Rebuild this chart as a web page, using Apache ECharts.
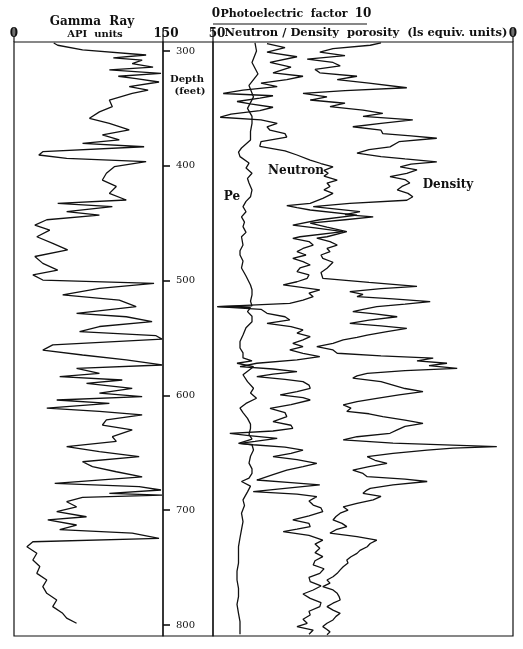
<!DOCTYPE html>
<html>
<head>
<meta charset="utf-8">
<script src="https://cdn.jsdelivr.net/npm/echarts@6/dist/echarts.min.js"></script>
<style>
html,body{margin:0;padding:0;background:#fff;}
#c{width:523px;height:649px;}
</style>
</head>
<body>
<div id="c"></div>
<script>
// ---- Data ----
const depthTicks = [300, 400, 500, 600, 700, 800];
const grTicks = [0, 150];
const porTicks = [50, 0];
const peTicks = [0, 10];

const grDepth = [293,295,299,303.5,306,308,311,314,316.5,319.5,
  322,324,327,331,334,337,342.7,348.5,353,358.6,
  363,368.8,373,377.5,380.4,383.4,387.7,390.6,393.5,396.4,
  400.8,406.5,412.4,418,424,429.8,432.7,435.6,440,443,
  447,451.6,456,461.8,467.5,473.3,479,485,490.8,495,
  499.5,502.4,506.7,512.5,517,522.7,528.5,531.5,535.8,540,
  544.5,548,551,556,560.5,564.8,569,573.5,576.4,580.8,
  583.7,586.6,589.5,593.8,598,601,604,607,611,614,
  617,621.4,625.8,630,636,640,644.7,649,653.4,657.8,
  662,666.5,671,676.6,679.5,682.4,685.3,686.8,688.8,692.6,
  697,701.3,705.7,708.5,712.9,717,720,724.5,727.5,731.8,
  737.5,743.4,749,755,760.8,766.6,772.4,778.2,784,789.8,
  794,798.5];
const grValue = [40,44,69,133,100,129,119,140,96,148,
  105,123,146,116,135,119,96,99,86,76,
  96,116,89,106,69,131,29,25,53,133,
  101,93,89,103,96,113,44,99,53,86,
  33,21,36,23,39,54,21,29,44,19,
  29,141,86,49,106,123,63,113,139,86,
  66,143,149,39,29,69,113,149,63,86,
  46,109,73,119,86,129,43,96,33,86,
  129,93,89,119,99,103,53,86,126,69,
  79,103,129,41,126,148,96,149,69,53,
  63,43,73,34,63,46,119,146,19,13,
  23,19,26,23,33,29,33,43,39,49,
  53,63];

const peDepth = [293,300,310,320,330,340,350,357,363,370,
  377.5,381,384.5,388,392,397.6,402,406.5,411,415,
  421,427,431,435.6,440,444.5,449,453,458,461.8,
  469,474,477.7,483,489,496,503.8,508,512.5,518,
  522,522.7,523.5,527,531,535.8,541,547.4,553,558.7,
  563,567.4,570,572,575,582,588,593.8,598,602.5,
  607,611,615,620,625,628.7,634,638,641.7,643,
  647.6,653,659,664,667.9,672,675,679,684,691,
  696,702.6,710,717,724,731.8,739,746,753,760.8,
  768,775.3,782,789.8,797,804.4,808];
const peValue = [2.8,2.9,2.6,3.0,2.4,2.7,2.3,2.6,2.6,2.5,
  2.5,2.2,1.9,1.7,1.8,2.4,2.2,2.6,2.3,2.4,
  2.6,2.5,2.2,2.0,2.2,1.9,2.1,2.0,2.2,1.9,
  2.0,1.8,1.8,2.0,1.9,2.2,2.5,2.6,2.6,2.5,
  2.6,0.3,2.5,2.3,2.6,2.6,2.2,2.0,1.8,1.8,
  2.0,2.0,2.6,1.6,2.7,2.0,2.3,2.7,2.5,2.9,
  2.2,1.8,2.0,2.3,2.5,2.5,2.4,2.6,1.7,2.6,
  2.7,2.5,2.4,2.6,2.6,2.4,1.9,2.5,2.3,2.0,
  2.1,1.9,2.0,1.9,1.8,1.7,1.7,1.7,1.6,1.6,
  1.7,1.7,1.6,1.7,1.8,1.8,1.8];

const neuDepth = [293.5,297,301,305,310,314,319,322,325,328,
  331,334,337,339,341,344,346,349,352,355,
  357.7,360,363,366,369,372,375,379,383,387,
  390.6,395,398,401,404,406.5,409,412.4,415,418,
  421,424,428.4,432.7,434.7,436.5,438.5,443,447,451.6,
  454,457.4,461.8,463.2,466,469,472,474.8,477.7,480.6,
  483.5,486.4,489,492.2,495,498,501,503.8,508.1,511,
  514,517,519.8,522.7,525,528.5,531.5,534.3,537.2,540,
  543,545.8,548.8,551.7,554.6,557.5,560.4,563.3,566.2,569,
  572,574.9,577,579.3,581.5,583.7,586,588,591,593.8,
  596.7,599.6,602,604,608,611.3,615,618.5,622.9,626,
  628.7,631,633,635,637.4,640,641.7,643,645,647.6,
  650.5,653.4,656,659.2,662,665,669,673.7,676,678,
  681,683.9,686,688.2,692,695.5,698,701.3,705,708.5,
  711.5,714.3,716.5,718.7,722,726,729.5,733.2,737,740.5,
  744,747.7,751,755,758.5,762.2,766,769.5,773,776.8,
  780.5,784,788,791.3,795,798.5,801.5,804.4,808];
const neuValue = [41,38,41,36,40.5,37,40,35,37.7,42,
  39.3,45,48.3,40,42.2,46,43.8,40,42.2,47,
  48.8,42,39.3,41,40.5,38,37.7,42,42.2,38,
  36,33.8,32,30,31.5,30.8,31.5,29.3,31,30.5,
  31.5,30,31.7,33.8,37.7,36,33.8,26,32.2,36.7,
  33,28.3,35.5,36.7,34,33.3,35,36,34.5,36.7,
  35,33.8,35.5,36,34,34.3,36,38.3,32.2,34,
  33.3,35,37.2,49.3,42,41,38,37.2,41,37,
  35,36,33.8,35,36.7,35,37.2,35,32.2,36,
  42.7,45.5,40,36,40,42.7,38,35,34,33.8,
  36,38.8,35,33.8,37,40.5,38,37.7,40,37,
  36.7,40,47.2,44,39.3,43,45.5,43.3,38,35,
  37,40,36,32.7,35,37.7,40,42.7,37,32.2,
  38,43.3,36,32.7,34,33.3,32,31.7,34,36.7,
  34,33.8,36,38.3,34,31.7,33,32.2,33,31.7,
  33,33.3,31.5,32.2,34,33.8,32,33.3,35,33.8,
  32,32.2,34,33.8,35,34.3,36,33.3,34];

const denDepth = [293,295,298,301,304,307,310,313,316,319,
  322,325,328,332,334.5,337,340,342.7,345.5,348.5,
  351.5,354.4,357,360,363,366,369,372,374,376,
  379,383.5,386,389,392,394,396.5,398.5,401,403.5,
  406.5,409.5,412,415,418,421,424,427,430,432.7,
  435.6,438,440,442.5,444.5,447,450,453.5,457.4,461.8,
  463,466,469,472,474.8,477.7,480.6,484,489.3,493,
  498,501.5,505,507,509.6,512,514,516,518.3,520.5,
  522.7,525,527,529,531.5,534.5,537.2,539.5,541.6,544.5,
  547.4,549.5,551.7,554.6,557.5,560.4,563.3,565.5,567.6,570,
  572,574,576.4,578.5,580.8,583,585,588,591,594,
  596.7,599.5,602.5,605.5,608.3,611,614,616,618.5,621.5,
  624.3,627,630,633,636,638.8,641.5,644.6,646,647.6,
  650.5,653.4,656.5,659.2,662,665,668,670.8,673,675,
  678,681,683,685.3,688,691,694,697,700,702.6,
  705.5,708.5,711.5,714.3,717,720,723,726,729,731.8,
  735,737.6,740.5,743.4,746,749.2,752,755,758,760.8,
  763.5,766.6,769.5,772.4,775,778.2,781,784,787,789.8,
  792.5,795.6,798.5,801.4,804,806,808.5];
const denValue = [22,23.8,30,32.2,28,34.3,30,28.8,33,32.2,
  26,29.3,24,17.7,28,35,31,33.8,28,30.5,
  25,21.7,25,16.7,22,26.7,22,21.7,17,12.7,
  19,20.5,24,26,22,18,12.7,17,18.8,16,
  17.7,20.5,18,17.2,18.5,19.3,17.5,16.7,17.7,27.2,
  33.3,29,25.5,28,23.3,28,33.8,31,27.7,31,
  32.7,30.5,29.3,31,30.5,32,31.7,30,31,32,
  31.7,24,16,22,27.2,25,26,20,13.8,18,
  22.7,25,26.7,23,19.3,24,27.2,22,17.7,21,
  24.3,26,28.3,30,32.7,30,29.3,22,13.3,16,
  11,14,9.3,18,24.3,26,26.7,22,20,18,
  15,19,22.7,26,28.3,27,27.7,24,21.7,18,
  15,18,19.3,20.5,26,28.3,20,2.7,10,14.3,
  20,24.3,23,21,24,26.7,25,24.3,18,14.3,
  20,23.8,24.5,25,22,23.3,26,28.3,27.5,28.8,
  29.5,30,28.5,27.7,29.5,30.5,26,22.7,23.8,24.3,
  25.5,26,27,27.7,27.5,28.3,28.8,29.3,30,31,
  30.5,31.7,30,29.3,29,28.8,30,31,30,28.8,
  29.5,30,31,31.7,31,30.5,31];

// ---- Layout ----
const TOP = 42, BOTTOM_Y = 636, H = BOTTOM_Y - TOP;
const GR_L = 14, GR_R = 163, TR_L = 213, TR_R = 513;
const DMIN = 292.16, DMAX = 809.58;
const SERIF = "'DejaVu Serif', 'Liberation Serif', serif";
const INK = '#111';
const HEAD_TICK = 14;

function pairs(vals, depths) {
  const n = Math.min(vals.length, depths.length);
  const out = [];
  for (let i = 0; i < n; i++) out.push([vals[i], depths[i]]);
  return out;
}

const chart = echarts.init(document.getElementById('c'), null, {renderer: 'canvas'});
const peEndX = TR_L + (TR_R - TR_L) * 10 / 20;

const headRich = {
  s: {fontFamily: SERIF, fontWeight: 'bold', fontSize: 12, color: INK, padding: [0, 0, 0, 6]},
  m: {fontFamily: SERIF, fontWeight: 'bold', fontSize: 12, color: INK, padding: [0, 0, 0, 8]}
};

// short scale-end marks above each track edge
const edgeMarks = [GR_L, GR_R, TR_L, TR_R].map(x => ({
  type: 'line', z: 100,
  shape: {x1: x, y1: TOP - HEAD_TICK, x2: x, y2: TOP},
  style: {stroke: INK, lineWidth: 1.2}
}));

chart.setOption({
  animation: false,
  backgroundColor: '#fff',
  grid: [
    {left: GR_L, top: TOP, width: GR_R - GR_L, height: H, show: true, borderColor: INK, borderWidth: 1.2, backgroundColor: 'transparent'},
    {left: TR_L, top: TOP, width: TR_R - TR_L, height: H, show: true, borderColor: INK, borderWidth: 1.2, backgroundColor: 'transparent'},
    {left: GR_R, top: TOP, width: TR_L - GR_R, height: H, show: true, borderColor: INK, borderWidth: 1.2, backgroundColor: 'transparent'}
  ],
  xAxis: [
    {gridIndex: 0, type: 'value', min: 0, max: 150, position: 'top',
     axisLine: {show: false, onZero: false}, splitLine: {show: false}, axisTick: {show: false},
     axisLabel: {show: true, customValues: grTicks, margin: 2, color: INK, fontFamily: SERIF, fontWeight: 'bold', fontSize: 12,
       formatter: v => v === 150 ? '{s|150}' : String(v), rich: headRich}},
    {gridIndex: 1, type: 'value', min: 0, max: 50, inverse: true, position: 'top',
     axisLine: {show: false, onZero: false}, splitLine: {show: false}, axisTick: {show: false},
     axisLabel: {show: true, customValues: porTicks, margin: 2, color: INK, fontFamily: SERIF, fontWeight: 'bold', fontSize: 12,
       formatter: v => v === 50 ? '{m|50}' : String(v), rich: headRich}},
    {gridIndex: 1, type: 'value', min: 0, max: 20, position: 'top', offset: 19,
     axisLine: {show: false, onZero: false}, splitLine: {show: false}, axisTick: {show: false},
     axisLabel: {show: true, customValues: peTicks, margin: 3, color: INK, fontFamily: SERIF, fontWeight: 'bold', fontSize: 12,
       formatter: v => v === 0 ? '{s|0}' : String(v), rich: headRich}},
    {gridIndex: 2, type: 'value', min: 0, max: 1, show: false, axisLine: {onZero: false}}
  ],
  yAxis: [
    {gridIndex: 0, type: 'value', min: DMIN, max: DMAX, inverse: true, position: 'right',
     axisLine: {show: false, onZero: false}, splitLine: {show: false},
     axisTick: {show: true, inside: false, customValues: depthTicks, length: 7, lineStyle: {color: INK, width: 1.6}},
     axisLabel: {show: true, customValues: depthTicks, margin: 13, color: INK, fontFamily: SERIF, fontSize: 10}},
    {gridIndex: 1, type: 'value', min: DMIN, max: DMAX, inverse: true, show: false, axisLine: {onZero: false}},
    {gridIndex: 2, type: 'value', min: DMIN, max: DMAX, inverse: true, show: false, axisLine: {onZero: false}}
  ],
  series: [
    {name: 'Gamma Ray', type: 'line', xAxisIndex: 0, yAxisIndex: 0, showSymbol: false,
     lineStyle: {color: INK, width: 1.3}, data: pairs(grValue, grDepth)},
    {name: 'Pe', type: 'line', xAxisIndex: 2, yAxisIndex: 1, showSymbol: false,
     lineStyle: {color: INK, width: 1.3}, data: pairs(peValue, peDepth)},
    {name: 'Neutron', type: 'line', xAxisIndex: 1, yAxisIndex: 1, showSymbol: false,
     lineStyle: {color: INK, width: 1.3}, data: pairs(neuValue, neuDepth)},
    {name: 'Density', type: 'line', xAxisIndex: 1, yAxisIndex: 1, showSymbol: false,
     lineStyle: {color: INK, width: 1.3}, data: pairs(denValue, denDepth)}
  ],
  graphic: edgeMarks.concat([
    {type: 'text', x: 92, y: 22, style: {text: 'Gamma  Ray', fontFamily: SERIF, fontWeight: 'bold', fontSize: 12, fill: INK, align: 'center', verticalAlign: 'middle'}},
    {type: 'text', x: 95, y: 34, style: {text: 'API  units', fontFamily: SERIF, fontWeight: 'bold', fontSize: 10, fill: INK, align: 'center', verticalAlign: 'middle'}},
    {type: 'text', x: 284, y: 14, style: {text: 'Photoelectric  factor', fontFamily: SERIF, fontWeight: 'bold', fontSize: 11, fill: INK, align: 'center', verticalAlign: 'middle'}},
    {type: 'line', shape: {x1: TR_L, y1: 24, x2: peEndX + 4, y2: 24}, style: {stroke: INK, lineWidth: 1.2}},
    {type: 'text', x: 366, y: 33, style: {text: 'Neutron / Density  porosity  (ls equiv. units)', fontFamily: SERIF, fontWeight: 'bold', fontSize: 11.5, fill: INK, align: 'center', verticalAlign: 'middle'}},
    {type: 'text', x: 187, y: 79, style: {text: 'Depth', fontFamily: SERIF, fontWeight: 'bold', fontSize: 10, fill: INK, align: 'center', verticalAlign: 'middle'}},
    {type: 'text', x: 190, y: 91, style: {text: '(feet)', fontFamily: SERIF, fontWeight: 'bold', fontSize: 10, fill: INK, align: 'center', verticalAlign: 'middle'}},
    {type: 'text', x: 232, y: 197, style: {text: 'Pe', fontFamily: SERIF, fontWeight: 'bold', fontSize: 12, fill: INK, align: 'center', verticalAlign: 'middle'}},
    {type: 'text', x: 296, y: 171, style: {text: 'Neutron', fontFamily: SERIF, fontWeight: 'bold', fontSize: 12, fill: INK, align: 'center', verticalAlign: 'middle'}},
    {type: 'text', x: 448, y: 185, style: {text: 'Density', fontFamily: SERIF, fontWeight: 'bold', fontSize: 12, fill: INK, align: 'center', verticalAlign: 'middle'}}
  ])
});
</script>
</body>
</html>
